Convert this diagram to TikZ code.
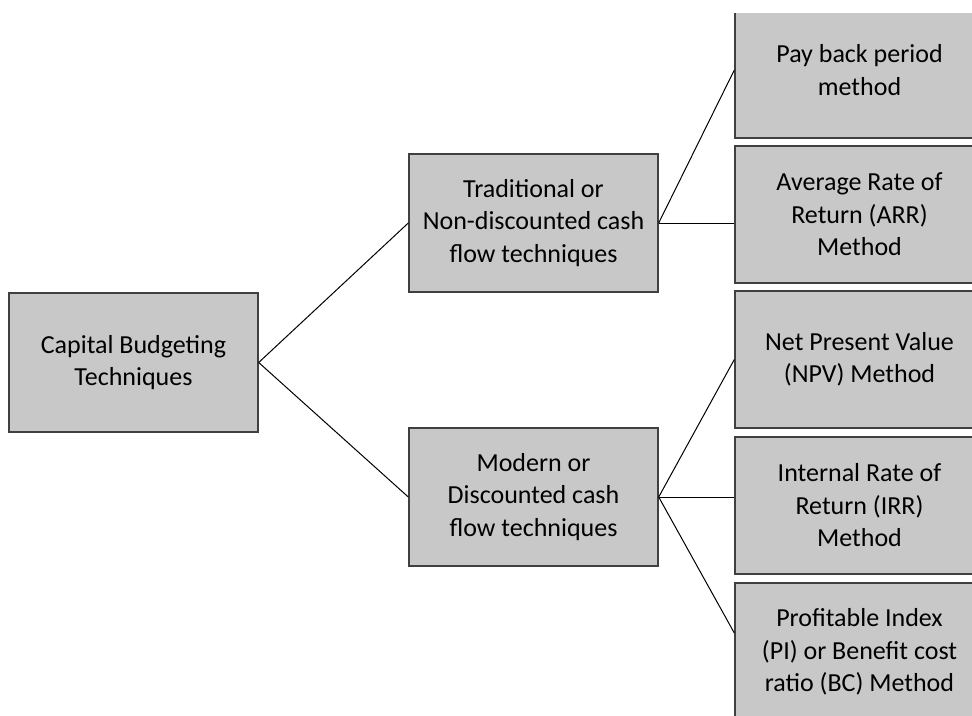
\documentclass[tikz,border=0pt]{standalone}
\usepackage{fontspec}
\setmainfont{Carlito}
\definecolor{boxfill}{HTML}{C8C8C8}
\definecolor{boxline}{HTML}{404040}
\begin{document}
\begin{tikzpicture}[x=1pt,y=-1pt,
  tbox/.style={rectangle, draw=boxline, line width=1.4pt, fill=boxfill,
    minimum width=249pt, minimum height=138pt, align=center, inner sep=0pt,
    font=\fontsize{26pt}{32.5pt}\selectfont},
  link/.style={draw=black, line width=1pt}]
\useasboundingbox (0,0) rectangle (972,715);
\clip (0,13) rectangle (972,715);
\node[tbox, minimum height=139pt] (cap) at (133.5,362.5) {Capital Budgeting\\Techniques};
\node[tbox] (trad) at (533.5,223) {Traditional or\\Non-discounted cash\\flow techniques};
\node[tbox] (mod) at (533.5,497) {Modern or\\Discounted cash\\flow techniques};
\node[tbox, minimum height=136pt] (pay) at (859.5,70) {Pay back period\\method};
\node[tbox, minimum height=137pt] (arr) at (859.5,214.5) {Average Rate of\\Return (ARR)\\Method};
\node[tbox, minimum height=137pt] (npv) at (859.5,359.5) {Net Present Value\\(NPV) Method};
\node[tbox, minimum height=137pt] (irr) at (859.5,505.5) {Internal Rate of\\Return (IRR)\\Method};
\node[tbox] (pi) at (859.5,652) {Profitable Index\\(PI) or Benefit cost\\ratio (BC) Method};
\draw[link] (cap.east) -- (trad.west);
\draw[link] (cap.east) -- (mod.west);
\draw[link] (trad.east) -- (pay.west);
\draw[link] (trad.east) -- (trad.east -| arr.west);
\draw[link] (mod.east) -- (npv.west);
\draw[link] (mod.east) -- (mod.east -| irr.west);
\draw[link] (mod.east) -- ([yshift=19pt]pi.west);
\end{tikzpicture}
\end{document}
